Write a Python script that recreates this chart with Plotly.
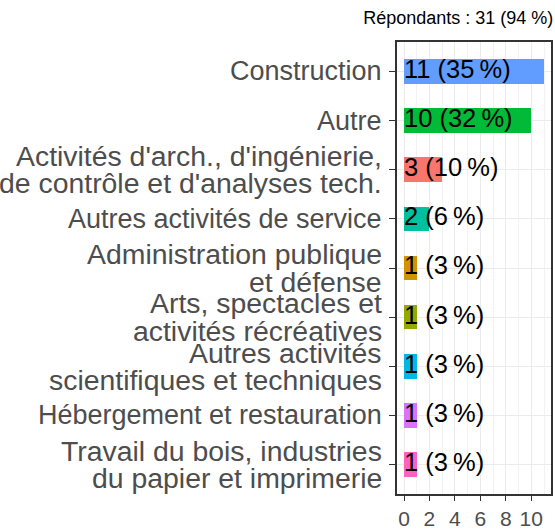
import plotly.graph_objects as go

categories = [
    "Construction",
    "Autre",
    "Activités d'arch., d'ingénierie,\nde contrôle et d'analyses tech.",
    "Autres activités de service",
    "Administration publique\net défense",
    "Arts, spectacles et\nactivités récréatives",
    "Autres activités\nscientifiques et techniques",
    "Hébergement et restauration",
    "Travail du bois, industries\ndu papier et imprimerie",
]
counts = [11, 10, 3, 2, 1, 1, 1, 1, 1]
percents = [35, 32, 10, 6, 3, 3, 3, 3, 3]
colors = ["#619CFF", "#00BA38", "#F8766D", "#00C19F", "#D39200",
          "#93AA00", "#00B9E3", "#DB72FB", "#FF61C3"]
x_ticks = [0, 2, 4, 6, 8, 10]
title_text = "Répondants : 31 (94 %)"

FONT = "Liberation Sans"
keys = [c.replace("\n", " ") for c in categories]
labels = [f"{c} ({p}\u202f%)" for c, p in zip(counts, percents)]

fig = go.Figure()
fig.add_trace(go.Bar(
    x=counts, y=keys, orientation="h", width=0.5,
    marker=dict(color=colors, line=dict(width=0)),
    hoverinfo="skip", showlegend=False,
))
fig.add_trace(go.Scatter(
    x=[0] * len(keys), y=keys, mode="text", text=labels,
    textposition="middle right",
    textfont=dict(family=FONT, size=25.5, color="black"),
    hoverinfo="skip", showlegend=False, cliponaxis=False,
))

annotations = []
for cat, key in zip(categories, keys):
    lines = cat.split("\n")
    n = len(lines)
    size = 27 if n == 1 else 28.4
    for i, line in enumerate(lines):
        shift = ((n - 1) / 2 - i) * 27.5
        annotations.append(dict(
            text=line, xref="paper", x=0, xanchor="right", xshift=-13,
            yref="y", y=key, yanchor="middle", yshift=shift,
            showarrow=False,
            font=dict(family=FONT, size=size, color="#4D4D4D"),
        ))

fig.update_layout(
    width=555, height=532,
    margin=dict(l=397, r=2, t=42, b=32),
    plot_bgcolor="white", paper_bgcolor="white",
    font=dict(family=FONT),
    title=dict(text=title_text, xref="container", x=0.997, xanchor="right",
               yref="container", y=1 - 18 / 532, yanchor="middle",
               font=dict(family=FONT, size=18, color="black")),
    annotations=annotations,
    bargap=0,
)
fig.update_xaxes(
    range=[-0.55, 11.55], tickvals=x_ticks, ticktext=[str(v) for v in x_ticks],
    showgrid=True, gridcolor="#EBEBEB", gridwidth=1.1,
    minor=dict(dtick=1, tick0=0, showgrid=True, gridcolor="#F2F2F2", gridwidth=0.6, ticks=""),
    ticks="outside", ticklen=5, tickwidth=1.2, tickcolor="#333333",
    tickfont=dict(family=FONT, size=21, color="#4D4D4D"),
    showline=True, mirror=True, linecolor="#333333", linewidth=1.5,
    zeroline=False, fixedrange=True,
)
fig.update_yaxes(
    type="category", categoryorder="array", categoryarray=keys,
    range=[len(keys) - 1 + 0.6, -0.6],
    showticklabels=False,
    showgrid=True, gridcolor="#EBEBEB", gridwidth=1.1,
    ticks="outside", ticklen=6, tickwidth=1.2, tickcolor="#333333",
    showline=True, mirror=True, linecolor="#333333", linewidth=1.5,
    zeroline=False, fixedrange=True,
)

fig.write_html(
    "out.html",
    config={"displayModeBar": False},
    post_script="document.body.style.margin='0';document.body.style.overflow='hidden';",
)
